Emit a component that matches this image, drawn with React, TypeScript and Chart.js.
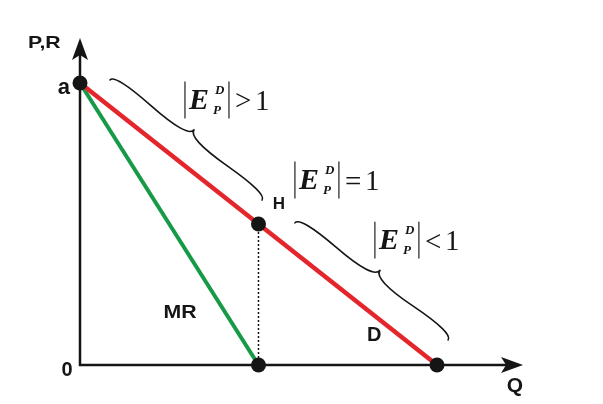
import { useEffect, useRef } from "react";
import { Chart, registerables } from "chart.js";

Chart.register(...registerables);

// ---- data (Q = quantity, P = price/revenue) ----
const demandQ = [0, 10];
const demandP = [10, 0];
const mrQ = [0, 5];
const mrP = [10, 0];
const guideQ = [5, 5];
const guideP = [5, 0];
const pointQ = [0, 5, 5, 10];
const pointP = [10, 5, 0, 0];
const axisQ = [0, 0, 12.1];
const axisP = [11.3, 0, 0];
const arrowTipQ = 12.41;
const arrowTipP = 11.6;

const labelTexts = ["P,R", "a", "0", "Q", "H", "MR", "D"];
const labelQ = [-1.0, -0.45, -0.36, 12.18, 5.57, 2.8, 8.24];
const labelP = [11.42, 9.82, -0.18, -0.74, 5.71, 1.84, 1.03];

const formulaRel = [">", "=", "<"];
const formulaQ = [2.94, 6.02, 8.26];
const formulaP = [9.4, 6.56, 4.43];

const braceStartQ = [0.84, 6.02];
const braceStartP = [10.11, 5.04];
const braceEndQ = [5.1, 10.31];
const braceEndP = [5.85, 0.89];

const RED = "#e3262b";
const GREEN = "#179a48";
const INK = "#151515";

const toXY = (qs: number[], ps: number[]) => qs.map((q, i) => ({ x: q, y: ps[i] }));

const labelStyle: Record<string, { font: string; sx: number; }> = {
  "P,R": { font: 'bold 17px "Liberation Sans"', sx: 1.25 },
  a: { font: 'bold 22px "Liberation Sans"', sx: 1 },
  "0": { font: 'bold 20px "Liberation Sans"', sx: 1 },
  Q: { font: 'bold 21px "Liberation Sans"', sx: 1 },
  H: { font: 'bold 17px "Liberation Sans"', sx: 1 },
  MR: { font: 'bold 19px "Liberation Sans"', sx: 1.12 },
  D: { font: 'bold 20px "Liberation Sans"', sx: 1 },
};

function drawBrace(ctx: CanvasRenderingContext2D, x1: number, y1: number, x2: number, y2: number, w: number, q: number) {
  const dx = x2 - x1;
  const dy = y2 - y1;
  const L = Math.hypot(dx, dy);
  const ux = dx / L;
  const uy = dy / L;
  const nx = uy;
  const ny = -ux;
  const c1x = x1 + q * w * nx, c1y = y1 + q * w * ny;
  const e1x = x1 + 0.25 * L * ux + (1 - q) * w * nx, e1y = y1 + 0.25 * L * uy + (1 - q) * w * ny;
  const tx = x1 + 0.5 * L * ux + w * nx, ty = y1 + 0.5 * L * uy + w * ny;
  const c3x = x2 + q * w * nx, c3y = y2 + q * w * ny;
  const e2x = x1 + 0.75 * L * ux + (1 - q) * w * nx, e2y = y1 + 0.75 * L * uy + (1 - q) * w * ny;
  ctx.beginPath();
  ctx.moveTo(x1, y1);
  ctx.quadraticCurveTo(c1x, c1y, e1x, e1y);
  ctx.quadraticCurveTo(2 * e1x - c1x, 2 * e1y - c1y, tx, ty);
  ctx.moveTo(x2, y2);
  ctx.quadraticCurveTo(c3x, c3y, e2x, e2y);
  ctx.quadraticCurveTo(2 * e2x - c3x, 2 * e2y - c3y, tx, ty);
  ctx.stroke();
}

function drawFormula(ctx: CanvasRenderingContext2D, x0: number, cy: number, rel: string) {
  ctx.save();
  ctx.strokeStyle = "#333";
  ctx.lineWidth = 1.3;
  ctx.beginPath();
  ctx.moveTo(x0, cy - 18);
  ctx.lineTo(x0, cy + 18);
  ctx.moveTo(x0 + 44, cy - 18);
  ctx.lineTo(x0 + 44, cy + 18);
  ctx.stroke();
  ctx.fillStyle = INK;
  ctx.textAlign = "left";
  ctx.textBaseline = "alphabetic";
  ctx.font = 'bold italic 30px "Liberation Serif"';
  ctx.fillText("E", x0 + 4, cy + 9);
  ctx.font = 'bold italic 13px "Liberation Serif"';
  ctx.fillText("D", x0 + 30, cy - 6);
  ctx.fillText("P", x0 + 28, cy + 14);
  ctx.font = '29px "Liberation Serif"';
  ctx.fillText(rel, x0 + 50, cy + 10.5);
  ctx.fillText("1", x0 + 70, cy + 10);
  ctx.restore();
}

const overlay = {
  id: "overlay",
  beforeDatasetsDraw(chart: any) {
    const ctx: CanvasRenderingContext2D = chart.ctx;
    const xs = chart.scales.x;
    const ys = chart.scales.y;
    const ox = xs.getPixelForValue(0);
    const oy = ys.getPixelForValue(0);
    const tx = xs.getPixelForValue(arrowTipQ);
    const ty = ys.getPixelForValue(arrowTipP);
    ctx.save();
    ctx.fillStyle = INK;
    ctx.beginPath();
    ctx.moveTo(tx, oy);
    ctx.lineTo(tx - 22, oy - 8);
    ctx.lineTo(tx - 17, oy);
    ctx.lineTo(tx - 22, oy + 8);
    ctx.closePath();
    ctx.fill();
    ctx.beginPath();
    ctx.moveTo(ox, ty);
    ctx.lineTo(ox - 8, ty + 22);
    ctx.lineTo(ox, ty + 17);
    ctx.lineTo(ox + 8, ty + 22);
    ctx.closePath();
    ctx.fill();
    ctx.restore();
  },
  afterDatasetsDraw(chart: any) {
    const ctx: CanvasRenderingContext2D = chart.ctx;
    const xs = chart.scales.x;
    const ys = chart.scales.y;
    ctx.save();
    ctx.strokeStyle = INK;
    ctx.lineWidth = 1.6;
    ctx.lineCap = "round";
    ctx.lineJoin = "round";
    braceStartQ.forEach((q, i) => {
      drawBrace(
        ctx,
        xs.getPixelForValue(q),
        ys.getPixelForValue(braceStartP[i]),
        xs.getPixelForValue(braceEndQ[i]),
        ys.getPixelForValue(braceEndP[i]),
        i === 0 ? 13 : 14,
        0.6
      );
    });
    formulaRel.forEach((rel, i) => {
      drawFormula(ctx, xs.getPixelForValue(formulaQ[i]), ys.getPixelForValue(formulaP[i]), rel);
    });
    ctx.fillStyle = INK;
    ctx.textAlign = "center";
    ctx.textBaseline = "middle";
    labelTexts.forEach((t, i) => {
      const st = labelStyle[t];
      ctx.save();
      ctx.translate(xs.getPixelForValue(labelQ[i]), ys.getPixelForValue(labelP[i]));
      ctx.scale(st.sx, 1);
      ctx.font = st.font;
      ctx.fillText(t, 0, 0);
      ctx.restore();
    });
    ctx.restore();
  },
};

export default function App() {
  const ref = useRef<HTMLCanvasElement>(null);
  useEffect(() => {
    document.body.style.margin = "0";
    const canvas = ref.current;
    if (!canvas) return;
    const chart = new Chart(canvas, {
      type: "scatter",
      data: {
        datasets: [
          {
            label: "points",
            data: toXY(pointQ, pointP),
            showLine: false,
            pointRadius: 7.5,
            pointBackgroundColor: INK,
            pointBorderColor: INK,
            pointBorderWidth: 0,
          },
          {
            label: "D",
            data: toXY(demandQ, demandP),
            showLine: true,
            borderColor: RED,
            borderWidth: 4.5,
            pointRadius: 0,
          },
          {
            label: "MR",
            data: toXY(mrQ, mrP),
            showLine: true,
            borderColor: GREEN,
            borderWidth: 4,
            pointRadius: 0,
          },
          {
            label: "guide",
            data: toXY(guideQ, guideP),
            showLine: true,
            borderColor: INK,
            borderWidth: 1.5,
            borderDash: [2, 2],
            pointRadius: 0,
          },
          {
            label: "axes",
            data: toXY(axisQ, axisP),
            showLine: true,
            borderColor: INK,
            borderWidth: 2.5,
            borderJoinStyle: "miter",
            pointRadius: 0,
          },
        ] as any,
      },
      options: {
        responsive: false,
        animation: false,
        events: [],
        clip: false as any,
        layout: { padding: { left: 80, right: 76.75, top: 26.6, bottom: 39 } },
        plugins: { legend: { display: false }, tooltip: { enabled: false } },
        scales: {
          x: { type: "linear", min: 0, max: 12.5, display: false },
          y: { type: "linear", min: 0, max: 12, display: false },
        },
      },
      plugins: [overlay],
    });
    return () => chart.destroy();
  }, []);
  return <canvas ref={ref} width={603} height={404} style={{ display: "block" }} />;
}
